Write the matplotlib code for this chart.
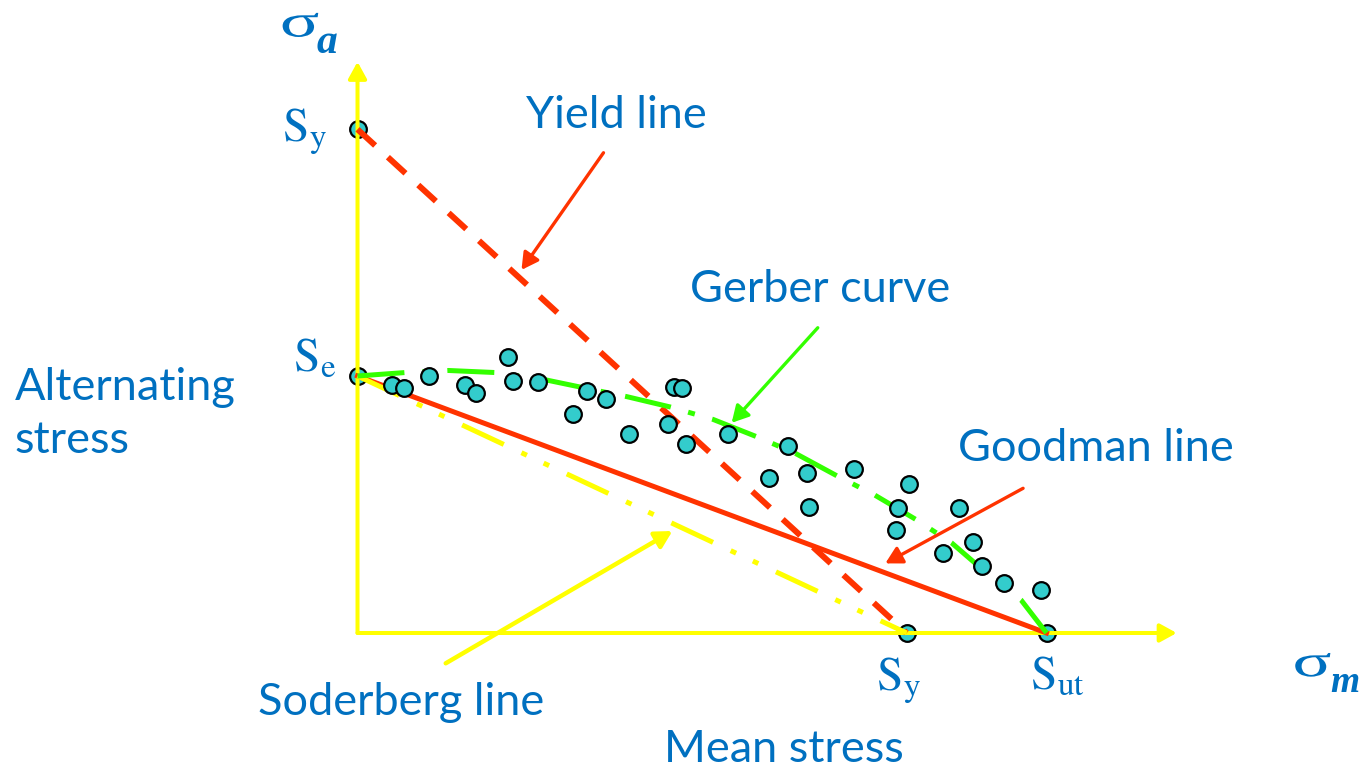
import matplotlib
matplotlib.use("Agg")
import matplotlib.pyplot as plt
from matplotlib.textpath import TextPath
from matplotlib.patches import PathPatch
from matplotlib.font_manager import FontProperties
from matplotlib.transforms import Affine2D

plt.rcParams["mathtext.fontset"] = "stix"

# Characteristic strengths (units where S_ut = 100)
S_UT = 100.0
S_Y_MEAN = 79.7   # yield strength marked on the mean-stress axis
S_Y_ALT = 73.1    # yield strength marked on the alternating-stress axis
S_E = 37.3        # endurance limit

# Fatigue test results: (mean stress, alternating stress)
test_mean = [5.0, 6.8, 10.4, 15.6, 17.2, 21.8, 22.5, 26.2, 33.3, 36.1, 31.3,
             45.9, 47.1, 45.0, 39.4, 47.7, 53.7, 62.5, 59.7, 65.2, 65.6, 72.0,
             80.0, 78.4, 78.2, 87.3, 89.3, 85.0, 90.6, 93.9, 99.2]
test_alt = [36.0, 35.5, 37.3, 36.0, 34.9, 40.0, 36.6, 36.4, 35.1, 34.0, 31.8,
            35.7, 35.5, 30.4, 28.9, 27.4, 28.9, 27.1, 22.5, 23.2, 18.3, 23.8,
            21.6, 18.2, 14.9, 18.2, 13.2, 11.6, 9.7, 7.3, 6.3]

# Gerber curve sketched through the test data
gerber_mean = [0.0, 6.9, 13.2, 20.0, 27.5, 32.3, 39.1, 45.4, 51.6, 57.9, 63.5,
               69.6, 75.1, 81.0, 86.2, 91.3, 96.3, S_UT]
gerber_alt = [S_E, 37.8, 38.1, 37.8, 36.7, 35.7, 34.3, 32.8, 31.0, 28.5, 26.1,
              22.8, 20.0, 16.5, 13.1, 8.7, 4.8, 0.0]

BLUE = "#0070C0"
RED = "#FF3300"
GREEN = "#33FF00"
YELLOW = "#FFFF00"
CYAN = "#33CCCC"

fig = plt.figure(figsize=(13.64, 7.71), dpi=100)
ax = fig.add_axes([0, 0, 1, 1])
ax.set_xlim(-51.89, 146.08)
ax.set_ylim(-20.03, 91.87)
ax.axis("off")


def arrow(ax, start, tip, color, lw, hl, hw, z):
    ax.annotate("", xy=tip, xytext=start, zorder=z,
                arrowprops=dict(arrowstyle=f"-|>,head_length={hl},head_width={hw}",
                                mutation_scale=1, lw=lw, color=color,
                                shrinkA=0, shrinkB=0))


def glyph_in_box(ax, ch, x0, x1, y0, y1, color):
    """Draw a single glyph stretched to fill the given data-space box."""
    path = TextPath((0, 0), ch, size=1,
                    prop=FontProperties(family="Liberation Serif"))
    ext = path.get_extents()
    tr = (Affine2D().translate(-ext.x0, -ext.y0)
          .scale((x1 - x0) / ext.width, (y1 - y0) / ext.height)
          .translate(x0, y0))
    ax.add_patch(PathPatch(tr.transform_path(path), facecolor=color,
                           edgecolor="none", zorder=7))


# Key strength points
ax.plot([0, 0, S_Y_MEAN, S_UT], [S_Y_ALT, S_E, 0, 0], "o", ms=12,
        mfc=CYAN, mec="black", mew=1.6, zorder=2)

# Axes
arrow(ax, (0, 0), (0, 82.9), YELLOW, 2.9, 10, 5.5, 3)
arrow(ax, (0, 0), (118.9, 0), YELLOW, 2.9, 10, 5.5, 3)

# Failure criteria
ax.plot([0, S_Y_MEAN], [S_Y_ALT, 0], color=RED, lw=4.3,
        ls=(0, (4.0, 2.9)), zorder=4)
ax.plot([0, S_UT], [S_E, 0], color=RED, lw=3.6, zorder=4)
ax.plot([0, S_Y_MEAN], [S_E, 0], color=YELLOW, lw=3.6,
        ls=(0, (9.2, 3.9, 1.2, 3.7, 1.2, 3.9)), zorder=4)
ax.plot(gerber_mean, gerber_alt, color=GREEN, lw=3.6,
        ls=(0, (9.4, 3.6, 1.4, 3.6)), zorder=4)

# Test data
ax.plot(test_mean, test_alt, "o", ms=12, mfc=CYAN, mec="black", mew=1.6,
        zorder=5)

# Callout arrows
arrow(ax, (35.7, 69.7), (23.8, 52.7), RED, 2.4, 10, 5.5, 6)
arrow(ax, (66.8, 44.3), (54.3, 30.5), GREEN, 2.4, 10, 5.5, 6)
arrow(ax, (96.6, 21.0), (76.6, 10.1), RED, 2.4, 10, 5.5, 6)
arrow(ax, (12.8, -4.4), (45.7, 14.8), YELLOW, 3.2, 10, 5.5, 6)

# Labels
lab = dict(family="Lato", color=BLUE, fontsize=32.5, ha="center", va="baseline")
ax.text(37.5, 73.25, "Yield line", **lab)
ax.text(67.1, 48.1, "Gerber curve", **lab)
ax.text(107.1, 24.9, "Goodman line", **lab)
ax.text(6.39, -11.9, "Soderberg line", **lab)
ax.text(61.9, -18.7, "Mean stress", **lab)
side = dict(family="Lato", color=BLUE, fontsize=32.5, ha="left", va="baseline")
ax.text(-49.8, 33.8, "Alternating", **side)
ax.text(-49.8, 26.1, "stress", **side)

sym = dict(color=BLUE, fontsize=34, ha="left", va="baseline")
ax.text(-10.9, 71.3, r"$\mathrm{S}_{\mathrm{y}}$", **sym)
ax.text(-9.3, 37.9, r"$\mathrm{S}_{\mathrm{e}}$", **sym)
ax.text(75.3, -8.4, r"$\mathrm{S}_{\mathrm{y}}$", **sym)
ax.text(97.6, -8.3, r"$\mathrm{S}_{\mathrm{ut}}$", **sym)

# Axis symbols: wide serif sigma with bold-italic subscripts
sub = dict(family="Liberation Serif", color=BLUE, ha="left", va="baseline",
           fontweight="bold", style="italic")
glyph_in_box(ax, "σ", -10.87, -5.70, 86.5, 90.0, BLUE)
ax.text(-5.9, 84.2, "a", fontsize=30, **sub)
glyph_in_box(ax, "σ", 136.1, 141.2, -6.34, -2.90, BLUE)
ax.text(141.2, -8.5, "m", fontsize=27, **sub)

fig.savefig("out.png", dpi=100)
